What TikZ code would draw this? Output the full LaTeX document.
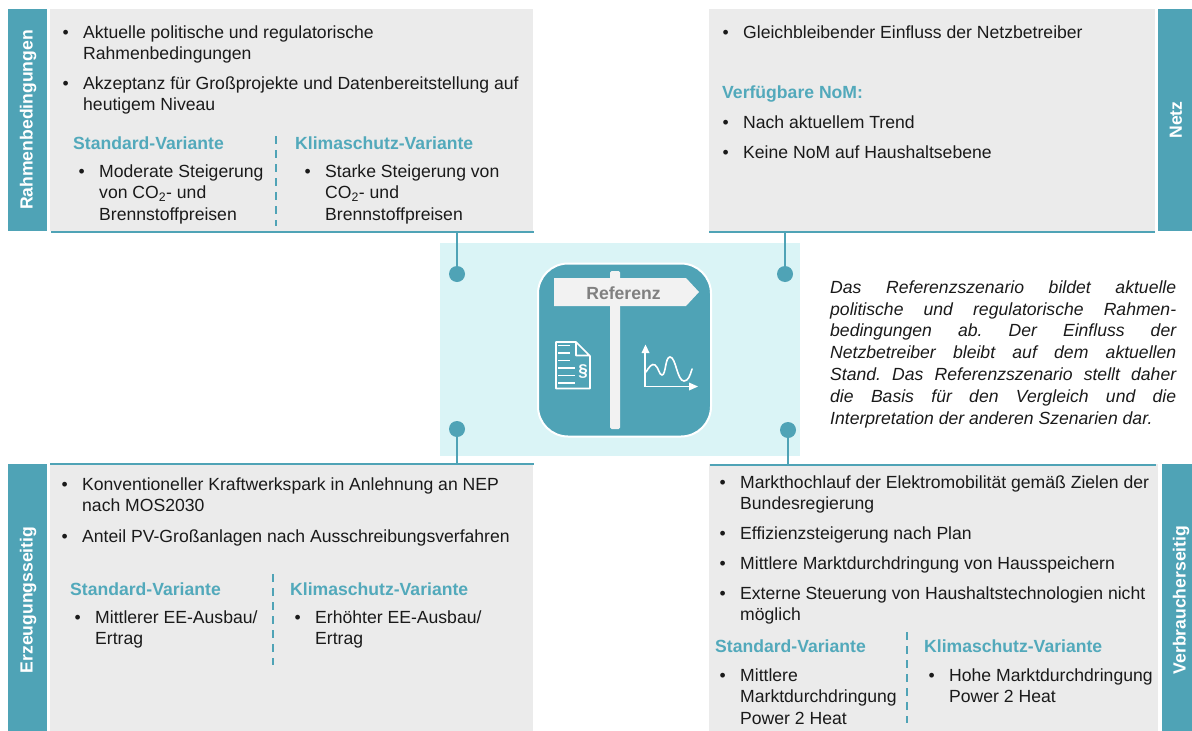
\documentclass[tikz,border=0pt]{standalone}
\usepackage{fontspec}
\setmainfont{Liberation Sans}
\frenchspacing
\definecolor{teal1}{HTML}{4FA3B6}
\definecolor{head}{HTML}{52A9BB}
\definecolor{panel}{HTML}{EBEBEB}
\definecolor{lightbg}{HTML}{DAF4F6}
\definecolor{signc}{HTML}{F2F2F2}
\definecolor{ink}{HTML}{1A1A1A}
\newcommand{\blt}{\llap{•\hspace{14.5pt}}}
\tikzset{
  x=1pt,y=-1pt,
  panelbox/.style={fill=panel,draw=none,inner sep=0,anchor=north west},
  tabbox/.style={fill=teal1,draw=none,inner sep=0,anchor=north west},
  tabtext/.style={text=white,font=\fontsize{17.6}{20}\selectfont\bfseries,rotate=90,inner sep=0},
  para/.style={anchor=north west,yshift=0.5pt,inner sep=0,align=left,text=ink,font=\fontsize{17.6}{21.4}\selectfont,execute at begin node=\rule{0pt}{13pt}},
  headt/.style={anchor=north west,yshift=0.5pt,inner sep=0,text=head,font=\fontsize{17.6}{20}\selectfont\bfseries,execute at begin node=\rule{0pt}{13pt}},
  pin/.style={circle,fill=teal1,draw=none,minimum size=16pt,inner sep=0},
  pinline/.style={draw=teal1,line width=2pt},
  edge line/.style={draw=teal1,line width=2pt},
  divider/.style={draw=teal1,line width=2pt,dash pattern=on 8pt off 6pt},
  icon/.style={draw=white,line width=1.6pt,line join=round},
}
\begin{document}
\begin{tikzpicture}
\useasboundingbox (0,0) rectangle (1192,731);
% centre
\node[fill=lightbg,inner sep=0,anchor=north west,minimum width=360pt,minimum height=213pt] (centre) at (440,243) {};
% panels
\node[panelbox,minimum width=483pt,minimum height=222pt] (pTL) at (50,9) {};
\node[panelbox,minimum width=446pt,minimum height=222pt] (pTR) at (709,9) {};
\node[panelbox,minimum width=483pt,minimum height=267pt] (pBL) at (50,464) {};
\node[panelbox,minimum width=449pt,minimum height=267pt] (pBR) at (709,464) {};
\draw[edge line] (51,231.5) -- (534,231.5);
\draw[edge line] (709,232) -- (1155,232);
\draw[edge line] (50,464) -- (534,464);
\draw[edge line] (710,465) -- (1156,465);
% tabs
\node[tabbox,minimum width=39pt,minimum height=222pt] (tTL) at (8,9) {};
\node[tabbox,minimum width=34pt,minimum height=222pt] (tTR) at (1158,9) {};
\node[tabbox,minimum width=39pt,minimum height=267pt] (tBL) at (8,464) {};
\node[tabbox,minimum width=30pt,minimum height=267pt] (tBR) at (1162,464) {};
\node[tabtext] (lTL) at (28,120) {Rahmenbedingungen};
\node[tabtext] (lTR) at (1176,120) {Netz};
\node[tabtext] (lBL) at (28,600) {Erzeugungsseitig};
\node[tabtext] (lBR) at (1181,600) {Verbraucherseitig};
% pins
\node[pin] (a) at (457,274) {};
\node[pin] (b) at (785,274) {};
\node[pin] (c) at (457,429) {};
\node[pin] (d) at (788,430) {};
\draw[pinline] (a) -- (a |- pTL.south);
\draw[pinline] (b) -- (b |- pTR.south);
\draw[pinline] (c) -- (c |- pBL.north);
\draw[pinline] (d) -- (d |- pBR.north);
% sign
\node[fill=teal1,draw=white,line width=2pt,rounded corners=30pt,minimum width=173pt,minimum height=173pt,inner sep=0] (sign) at (624.5,350) {};
\fill[signc,rounded corners=1.5pt] (610,271) rectangle (620,429);
\fill[signc] (554,278) -- (686,278) -- (699,292) -- (686,306) -- (554,306) -- cycle;
\node[text=black!50,font=\fontsize{17.6}{20}\selectfont\bfseries,inner sep=0] (ref) at (623.5,293) {Referenz};
% document icon
\draw[icon] (576,342) -- (556,342) -- (556,388.5) -- (590,388.5) -- (590,356) -- (576,342) -- (576,355.5) -- (590,355.5);
\foreach \yy/\xe in {345.5/570,353/570,360.5/570,368/575,375.5/575,383/575}
  \draw[white,line width=1.6pt] (558,\yy) -- (\xe,\yy);
\node[text=white,font=\fontsize{17}{18}\selectfont\bfseries,inner sep=0] (para) at (583,372) {§};
% chart icon
\draw[white,line width=1.6pt] (645,349) -- (645,386.5) -- (690,386.5);
\fill[white] (645.5,344.5) -- (649.5,353) -- (641.5,353) -- cycle;
\fill[white] (698,386.5) -- (689,382.5) -- (689,390.5) -- cycle;
\draw[white,line width=1.6pt,line cap=round] (646,372) .. controls (649,367) and (652,363) .. (655,365) .. controls (659,368) and (659,375) .. (662,375) .. controls (666,375) and (665,357) .. (670,357) .. controls (676,357) and (677,381) .. (684,381) .. controls (688,381) and (690,376) .. (692,369);
% TL
\node[para] (t1) at (83,26) {\blt Aktuelle politische und regulatorische\\Rahmenbedingungen};
\node[para] (t2) at (83,77) {\blt Akzeptanz für Großprojekte und Datenbereitstellung auf\\heutigem Niveau};
\node[headt] (t3) at (73,137) {Standard-Variante};
\node[headt] (t4) at (295,137) {Klimaschutz-Variante};
\node[para] (t5) at (99,165) {\blt Moderate Steigerung\\von CO\textsubscript{2}- und\\Brennstoffpreisen};
\node[para] (t6) at (325,165) {\blt Starke Steigerung von\\CO\textsubscript{2}- und\\Brennstoffpreisen};
\draw[divider] (276,136) -- (276,226);
% TR
\node[para] (t7) at (743,26) {\blt Gleichbleibender Einfluss der Netzbetreiber};
\node[headt] (t8) at (722,86) {Verfügbare NoM:};
\node[para] (t9) at (743,116) {\blt Nach aktuellem Trend};
\node[para] (t10) at (743,146) {\blt Keine NoM auf Haushaltsebene};
% BL
\node[para] (t11) at (82,478) {\blt Konventioneller Kraftwerkspark in Anlehnung an NEP\\nach MOS2030};
\node[para] (t12) at (82,530) {\blt Anteil PV-Großanlagen nach Ausschreibungsverfahren};
\node[headt] (t13) at (70,583) {Standard-Variante};
\node[headt] (t14) at (290,583) {Klimaschutz-Variante};
\node[para] (t15) at (95,611) {\blt Mittlerer EE-Ausbau/\\Ertrag};
\node[para] (t16) at (315,611) {\blt Erhöhter EE-Ausbau/\\Ertrag};
\draw[divider] (273,574) -- (273,665);
% BR
\node[para] (t17) at (740,476) {\blt Markthochlauf der Elektromobilität gemäß Zielen der\\Bundesregierung};
\node[para] (t18) at (740,527) {\blt Effizienzsteigerung nach Plan};
\node[para] (t19) at (740,557) {\blt Mittlere Marktdurchdringung von Hausspeichern};
\node[para] (t20) at (740,587) {\blt Externe Steuerung von Haushaltstechnologien nicht\\möglich};
\node[headt] (t21) at (715,640) {Standard-Variante};
\node[headt] (t22) at (924,640) {Klimaschutz-Variante};
\node[para] (t23) at (740,669) {\blt Mittlere\\Marktdurchdringung\\Power 2 Heat};
\node[para] (t24) at (949,669) {\blt Hohe Marktdurchdringung\\Power 2 Heat};
\draw[divider] (907,632) -- (907,723);
% italic note
\node[anchor=north west,yshift=1pt,inner sep=0,text width=346pt,align=justify,text=ink,font=\fontsize{17.6}{21.8}\selectfont\itshape,execute at begin node=\rule{0pt}{13pt}] (note) at (830,281)
{Das Referenzszenario bildet aktuelle\linebreak politische und regulatorische Rahmen-\linebreak bedingungen ab. Der Einfluss der\linebreak Netzbetreiber bleibt auf dem aktuellen\linebreak Stand. Das Referenzszenario stellt daher\linebreak die Basis für den Vergleich und die\linebreak Interpretation der anderen Szenarien dar.};
\end{tikzpicture}
\end{document}
